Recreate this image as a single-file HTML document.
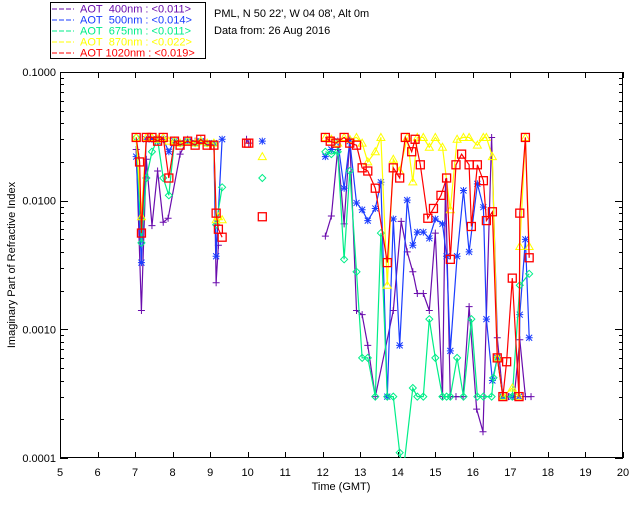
<!DOCTYPE html>
<html><head><meta charset="utf-8"><style>
html,body{margin:0;padding:0;background:#fff;}
svg{display:block;font-family:"Liberation Sans",sans-serif;}
</style></head><body>
<svg id="chart" width="640" height="512" xmlns="http://www.w3.org/2000/svg">
<defs><clipPath id="pc"><rect x="60" y="72" width="563" height="386"/></clipPath></defs>
<g>
<rect x="50.5" y="2.5" width="155" height="56" fill="#fff" stroke="#000"/>
<g font-size="11">
<line x1="52" y1="9" x2="74" y2="9" stroke="#6a0dad" stroke-dasharray="5,2"/><text x="80" y="12.5" fill="#6a0dad">AOT&#160; 400nm : &lt;0.011&gt;</text>
<line x1="52" y1="20" x2="74" y2="20" stroke="#1a3cff" stroke-dasharray="5,2"/><text x="80" y="23.5" fill="#1a3cff">AOT&#160; 500nm : &lt;0.014&gt;</text>
<line x1="52" y1="31" x2="74" y2="31" stroke="#00ee88" stroke-dasharray="5,2"/><text x="80" y="34.5" fill="#00ee88">AOT&#160; 675nm : &lt;0.011&gt;</text>
<line x1="52" y1="42" x2="74" y2="42" stroke="#ffff00" stroke-dasharray="5,2"/><text x="80" y="45.5" fill="#ffff00">AOT&#160; 870nm : &lt;0.022&gt;</text>
<line x1="52" y1="53" x2="74" y2="53" stroke="#ff0000" stroke-dasharray="5,2"/><text x="80" y="56.5" fill="#ff0000">AOT 1020nm : &lt;0.019&gt;</text>
</g></g>
<text x="214" y="17" font-size="11">PML, N 50 22', W 04 08', Alt 0m</text>
<text x="214" y="34" font-size="11">Data from: 26 Aug 2016</text>
<rect x="60.5" y="72.5" width="562" height="385" fill="none" stroke="#000"/>
<g id="axes" font-size="11"></g>
<text x="341" y="490" font-size="11" text-anchor="middle">Time (GMT)</text>
<text transform="translate(15,265) rotate(-90)" font-size="11" text-anchor="middle">Imaginary Part of Refractive Index</text>
<g id="series" clip-path="url(#pc)"></g>
</svg>
<script>
const xTicks=[5,6,7,8,9,10,11,12,13,14,15,16,17,18,19,20];
const yTicks=[0.1,0.01,0.001,0.0001];
const yTickLabels=["0.1000","0.0100","0.0010","0.0001"];
const t400=[7.03,7.17,7.3,7.45,7.6,7.75,7.88,8.2,8.4,8.6,8.75,8.92,9.1,9.16,9.22,null,9.97,10.03,null,12.07,12.23,12.4,12.57,12.72,12.9,13.05,13.2,13.4,13.88,14.09,14.25,14.4,14.52,14.68,14.84,15.0,15.19,15.27,15.4,15.55,15.74,15.9,16.1,16.27,16.5,16.65,16.8,16.95,17.1,17.25,17.4,17.55];
const v400=[0.025,0.0014,0.021,0.0064,0.017,0.0068,0.0073,0.023,0.03,0.029,0.03,0.028,0.028,0.0023,0.0045,null,0.03,0.028,null,0.0053,0.0076,0.025,0.0066,0.03,0.0014,0.0013,0.00075,0.0003,0.0014,0.0069,0.004,0.0028,0.0019,0.0019,0.0014,0.0056,0.0003,0.014,0.0003,0.0003,0.0003,0.0015,0.00024,0.00016,0.031,0.00086,0.0003,0.0003,0.0003,0.00083,0.0003,0.0003];
const t500=[7.03,7.17,7.3,7.45,7.6,7.75,7.9,8.05,8.2,8.4,8.6,8.75,8.92,9.1,9.16,9.32,null,10.39,null,12.07,12.23,12.4,12.57,12.72,12.9,13.05,13.2,13.4,13.55,13.72,13.88,14.05,14.25,14.4,14.52,14.68,14.84,15.0,15.19,15.3,15.4,15.58,15.75,15.9,16.12,16.28,16.36,16.52,16.65,16.8,17.05,17.23,17.25,17.4,17.5];
const v500=[0.022,0.0033,0.03,0.03,0.029,0.03,0.024,0.029,0.028,0.029,0.028,0.029,0.028,0.028,0.0037,0.03,null,0.029,null,0.022,0.025,0.029,0.0125,0.029,0.0096,0.0085,0.007,0.0087,0.0139,0.0003,0.0072,0.00075,0.0101,0.0045,0.0057,0.0057,0.0051,0.0072,0.0066,0.0037,0.00068,0.0037,0.012,0.004,0.0135,0.0089,0.0012,0.0004,0.0006,0.0003,0.0003,0.0003,0.0013,0.005,0.00086];
const t675=[7.03,7.17,7.3,7.45,7.6,7.75,7.9,8.05,8.2,8.4,8.6,8.75,8.92,9.1,9.16,9.32,null,10.39,null,12.07,12.23,12.4,12.57,12.72,12.9,13.05,13.2,13.4,13.55,13.72,13.88,14.05,14.15,14.4,14.52,14.68,14.84,15.0,15.19,15.3,15.4,15.58,15.75,15.96,16.12,16.28,16.5,16.55,16.65,16.8,17.05,17.25,17.5];
const v675=[0.031,0.0047,0.015,0.024,0.03,0.015,0.011,0.029,0.028,0.029,0.028,0.029,0.028,0.028,0.0065,0.0127,null,0.015,null,0.024,0.023,0.024,0.0035,0.017,0.0028,0.0006,0.0006,0.0003,0.0056,0.0003,0.0003,0.00011,0.00008,0.00035,0.0003,0.0003,0.0012,0.0006,0.0003,0.0003,0.0003,0.0006,0.0003,0.0012,0.0003,0.0003,0.0003,0.00042,0.0006,0.0003,0.0003,0.0022,0.0027];
const t870=[7.03,7.17,7.3,7.45,7.6,7.75,7.9,8.05,8.2,8.4,8.6,8.75,8.92,9.1,9.16,9.22,9.32,null,10.39,null,12.07,12.23,12.4,12.57,12.72,12.9,13.05,13.2,13.4,13.55,13.72,13.88,14.05,14.25,14.4,14.52,14.68,14.84,15.0,15.19,15.4,15.58,15.75,15.9,16.12,16.28,16.36,16.52,16.65,16.8,17.05,17.23,17.25,17.4,17.5];
const v870=[0.031,0.0075,0.031,0.031,0.03,0.031,0.029,0.029,0.028,0.029,0.028,0.029,0.028,0.028,0.0071,0.0075,0.0071,null,0.022,null,0.031,0.03,0.028,0.031,0.03,0.031,0.028,0.02,0.024,0.031,0.0022,0.021,0.017,0.031,0.014,0.031,0.031,0.026,0.031,0.026,0.0085,0.03,0.031,0.031,0.027,0.031,0.031,0.022,0.0006,0.0003,0.00035,0.0003,0.0044,0.031,0.0044];
const t1020=[7.03,7.12,7.17,7.3,7.45,7.6,7.75,7.9,8.05,8.2,8.4,8.6,8.75,8.92,9.1,9.16,9.22,9.32,null,9.97,10.03,null,10.39,null,12.07,12.2,12.35,12.57,12.72,12.9,13.05,13.2,13.4,13.72,13.88,14.05,14.2,14.37,14.46,14.6,14.8,14.95,15.15,15.3,15.4,15.55,15.7,15.9,15.96,16.12,16.28,16.36,16.52,16.65,16.8,16.9,17.05,17.23,17.25,17.4,17.5];
const v1020=[0.031,0.02,0.0056,0.031,0.031,0.029,0.031,0.015,0.029,0.027,0.029,0.027,0.03,0.027,0.027,0.008,0.006,0.0052,null,0.028,0.028,null,0.0075,null,0.031,0.029,0.028,0.031,0.028,0.027,0.018,0.017,0.0125,0.0033,0.018,0.015,0.031,0.024,0.03,0.019,0.0073,0.0087,0.011,0.015,0.0035,0.019,0.023,0.019,0.0063,0.019,0.0143,0.007,0.0082,0.0006,0.0003,0.00056,0.0025,0.0003,0.008,0.031,0.0036];

const NS="http://www.w3.org/2000/svg";
const X0=60,X1=623,Y0=72,Y1=458;
function xs(t){return X0+(t-5)*(X1-X0)/15;}
function ys(v){return Y0+(-1-Math.log10(v))*(Y1-Y0)/3;}
function mk(tag,attrs,parent){const e=document.createElementNS(NS,tag);for(const k in attrs)e.setAttribute(k,attrs[k]);parent.appendChild(e);return e;}
const axes=document.getElementById('axes');
xTicks.forEach(t=>{
  const x=Math.round(xs(t))+0.5;
  const tk=mk('line',{x1:x,y1:Y1,x2:x,y2:Y1-6,stroke:'#000'},axes);
  
  
  const tk2=mk('line',{x1:x,y1:Y0,x2:x,y2:Y0+6,stroke:'#000'},axes);
  
  
  const lb=mk('text',{x:xs(t),y:476,'text-anchor':'middle'},axes);lb.textContent=String(t);
  
  
});
yTicks.forEach((v,i)=>{
  const y=Math.round(ys(v))+0.5;
  const tk=mk('line',{x1:X0,y1:y,x2:X0+8,y2:y,stroke:'#000'},axes);
  
  
  const tk2=mk('line',{x1:X1,y1:y,x2:X1-8,y2:y,stroke:'#000'},axes);
  
  
  const lb=mk('text',{x:56,y:ys(v)+4,'text-anchor':'end'},axes);lb.textContent=yTickLabels[i];
  
  
  if(i<yTicks.length-1){for(let m=2;m<=9;m++){const yy=Math.round(ys(v/10*m))+0.5;
    const a=mk('line',{x1:X0,y1:yy,x2:X0+4,y2:yy,stroke:'#000'},axes);
    
    
    const b=mk('line',{x1:X1,y1:yy,x2:X1-4,y2:yy,stroke:'#000'},axes);
    
    }}
});
const sg=document.getElementById('series');
function marker(g,type,x,y,c){
  if(type==='plus'){mk('path',{d:`M${x-3.5},${y}H${x+3.5}M${x},${y-3.5}V${y+3.5}`,stroke:c,fill:'none'},g);}
  else if(type==='star'){mk('path',{d:`M${x-3.5},${y}H${x+3.5}M${x},${y-3.5}V${y+3.5}M${x-3},${y-3}L${x+3},${y+3}M${x-3},${y+3}L${x+3},${y-3}`,stroke:c,fill:'none'},g);}
  else if(type==='diamond'){mk('path',{d:`M${x},${y-3.5}L${x+3.5},${y}L${x},${y+3.5}L${x-3.5},${y}Z`,stroke:c,fill:'none'},g);}
  else if(type==='tri'){mk('path',{d:`M${x},${y-4}L${x+4},${y+3}L${x-4},${y+3}Z`,stroke:c,fill:'none'},g);}
  else {mk('rect',{x:x-4,y:y-4,width:8,height:8,stroke:c,fill:'none','stroke-width':1.3},g);}
}
function drawSeries(name,ts,vs,color,type){
  const g=mk('g',{},sg);
  
  
  let d='',pen=false;
  for(let i=0;i<ts.length;i++){
    if(ts[i]===null||vs[i]===null){pen=false;continue;}
    d+=(pen?'L':'M')+xs(ts[i]).toFixed(1)+','+ys(vs[i]).toFixed(1);pen=true;
  }
  const p=mk('path',{d:d,stroke:color,fill:'none','stroke-width':1.2},g);
  
  
  for(let i=0;i<ts.length;i++){if(ts[i]===null||vs[i]===null)continue;marker(g,type,xs(ts[i]),ys(vs[i]),color);}
}
drawSeries('series-400nm',t400,v400,'#6a0dad','plus');
drawSeries('series-500nm',t500,v500,'#1a3cff','star');
drawSeries('series-675nm',t675,v675,'#00ee88','diamond');
drawSeries('series-870nm',t870,v870,'#ffff00','tri');
drawSeries('series-1020nm',t1020,v1020,'#ff0000','square');
</script>
</body></html>
